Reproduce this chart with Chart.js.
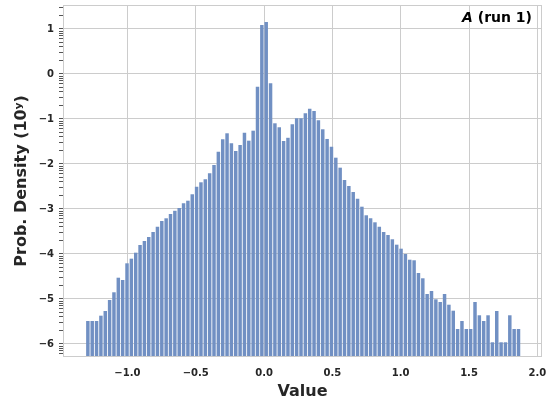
<!DOCTYPE html>
<html>
<head>
<meta charset="utf-8">
<script src="https://cdn.jsdelivr.net/npm/chart.js@4"></script>
<style>
  html, body { margin: 0; padding: 0; background: #fff; }
  #wrap { width: 549px; height: 405px; }
</style>
</head>
<body>
<div id="wrap"><canvas id="hist-chart" width="549" height="405"></canvas></div>
<script>
// histogram bins (left edge of first bin and bin width)
const binStart = -1.305;
const binWidth = 0.03183;

// log10 of probability density per bin
const logDensity = [
  -5.489, -5.489, -5.489, -5.371, -5.267, -5.022, -4.851, -4.527, -4.578, -4.207,
  -4.104, -3.971, -3.800, -3.711, -3.622, -3.511, -3.393, -3.267, -3.207, -3.111,
  -3.040, -2.978, -2.873, -2.816, -2.673, -2.504, -2.407, -2.340, -2.207, -2.022,
  -1.727, -1.451, -1.318, -1.540, -1.711, -1.578, -1.304, -1.482, -1.260, -0.282,
  1.089, 1.156, -0.207, -1.096, -1.184, -1.489, -1.418, -1.118, -0.984, -0.984,
  -0.873, -0.771, -0.822, -1.029, -1.229, -1.444, -1.616, -1.860, -2.082, -2.356,
  -2.489, -2.622, -2.771, -2.949, -3.140, -3.207, -3.296, -3.393, -3.511, -3.578,
  -3.673, -3.793, -3.882, -4.000, -4.127, -4.140, -4.422, -4.540, -4.889, -4.822,
  -5.007, -5.067, -4.889, -5.127, -5.260, -5.667, -5.489, -5.667, -5.667, -5.067,
  -5.362, -5.489, -5.362, -5.962, -5.267, -5.962, -5.962, -5.362, -5.667, -5.667
];

const xTicks = [-1.0, -0.5, 0.0, 0.5, 1.0, 1.5, 2.0];
const yDecades = [-7, -6, -5, -4, -3, -2, -1, 0, 1];

const xMin = -1.471, xMax = 2.034;
const yMin = 5.14e-7, yMax = 34.1;

const minus = (s) => s.replace("-", "\u2212");
const isDecade = (v) => {
  const e = Math.log10(v);
  return Math.abs(e - Math.round(e)) < 1e-9;
};

const points = logDensity.map((e, i) => ({
  x: binStart + binWidth * (i + 0.5),
  y: Math.pow(10, e),
}));

const yTickValues = [];
yDecades.forEach((d) => {
  for (let s = 1; s <= 9; s++) {
    const v = Number(s + "e" + d);
    if (v >= yMin && v <= yMax) yTickValues.push(v);
  }
});

const FONT = "'DejaVu Sans', sans-serif";

const framePlugin = {
  id: "frame",
  afterDraw(chart) {
    const { ctx, chartArea: a } = chart;
    ctx.save();
    ctx.strokeStyle = "#cccccc";
    ctx.lineWidth = 1;
    ctx.strokeRect(a.left + 0.5, a.top + 0.5, a.right - a.left - 1, a.bottom - a.top - 1);
    // panel label
    ctx.fillStyle = "#000";
    ctx.textBaseline = "alphabetic";
    ctx.textAlign = "right";
    ctx.font = "bold 14px " + FONT;
    const rest = " (run 1)";
    const xr = a.right - 10;
    const y = a.top + 17;
    ctx.fillText(rest, xr, y);
    const w = ctx.measureText(rest).width;
    ctx.font = "italic bold 14px " + FONT;
    ctx.fillText("A", xr - w, y);
    ctx.restore();
  },
};

const noPad = (axis) => {
  axis.paddingTop = 0;
  axis.paddingBottom = 0;
  axis.paddingLeft = 0;
  axis.paddingRight = 0;
};

new Chart(document.getElementById("hist-chart").getContext("2d"), {
  type: "bar",
  data: {
    datasets: [
      {
        data: points,
        backgroundColor: "#7190c3",
        borderWidth: 0,
        barPercentage: 1.0,
        categoryPercentage: 0.8,
      },
    ],
  },
  options: {
    responsive: false,
    animation: false,
    layout: { padding: { top: 5, right: 7, left: 0, bottom: 0 } },
    plugins: { legend: { display: false }, tooltip: { enabled: false } },
    scales: {
      x: {
        type: "linear",
        offset: false,
        min: xMin,
        max: xMax,
        afterBuildTicks: (axis) => {
          axis.ticks = xTicks.map((v) => ({ value: v }));
        },
        afterFit: (axis) => {
          axis.height = 48;
          noPad(axis);
        },
        grid: { color: "#cccccc", lineWidth: 1, drawTicks: false, offset: false },
        border: { display: false },
        ticks: {
          autoSkip: false,
          maxRotation: 0,
          padding: 10,
          color: "#262626",
          font: { family: FONT, size: 10, weight: "bold" },
          callback: (v) => minus(Number(v).toFixed(1)),
        },
        title: {
          display: true,
          text: "Value",
          color: "#262626",
          padding: { top: 0, bottom: 4 },
          font: { family: FONT, size: 16, weight: "bold" },
        },
      },
      y: {
        type: "logarithmic",
        min: yMin,
        max: yMax,
        afterBuildTicks: (axis) => {
          axis.ticks = yTickValues.map((v) => ({ value: v, major: isDecade(v) }));
        },
        afterFit: (axis) => {
          axis.width = 63;
          noPad(axis);
        },
        grid: {
          color: (c) => (c.tick && isDecade(c.tick.value) ? "#cccccc" : "rgba(0,0,0,0)"),
          tickColor: "#555555",
          tickLength: 4,
          lineWidth: 1,
        },
        border: { display: false },
        ticks: {
          autoSkip: false,
          padding: 5,
          color: "#262626",
          font: { family: FONT, size: 10, weight: "bold" },
          callback: (v) => (isDecade(v) ? minus(String(Math.round(Math.log10(v)))) : ""),
        },
        title: {
          display: true,
          text: "Prob. Density (10\u02B8)",
          color: "#262626",
          padding: { top: 12, bottom: 0 },
          font: { family: FONT, size: 16, weight: "bold" },
        },
      },
    },
  },
  plugins: [framePlugin],
});
</script>
</body>
</html>
